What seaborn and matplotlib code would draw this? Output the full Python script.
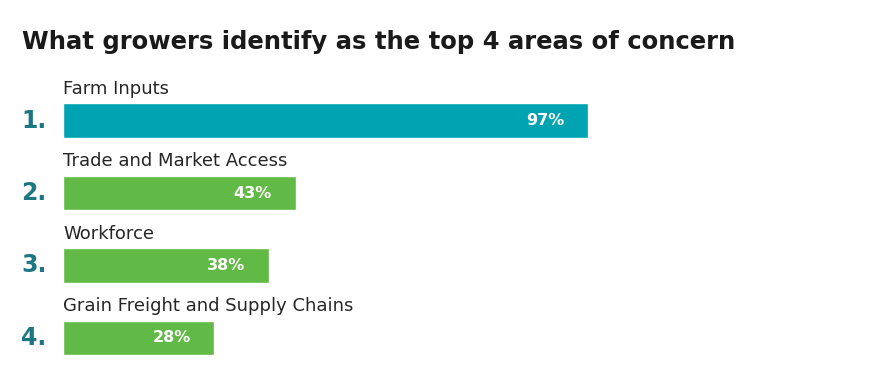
import matplotlib
matplotlib.use("Agg")
import matplotlib.pyplot as plt
import matplotlib.transforms as mtransforms
import seaborn as sns
import pandas as pd

title = "What growers identify as the top 4 areas of concern"
categories = ["Farm Inputs", "Trade and Market Access", "Workforce", "Grain Freight and Supply Chains"]
values = [97, 43, 38, 28]
ranks = ["1.", "2.", "3.", "4."]
colors = ["#00A3B1", "#62BA46", "#62BA46", "#62BA46"]

sns.set_theme(style="white")
plt.rcParams["font.family"] = ["DejaVu Sans"]

df = pd.DataFrame({"category": categories, "value": values})

fig = plt.figure(figsize=(8.72, 3.87), dpi=100)
ax = fig.add_axes([63 / 872, 1 - 381.5 / 387, 541 / 872, 304.5 / 387])
sns.barplot(data=df, x="value", y="category", hue="category", palette=colors,
            orient="h", width=0.48, legend=False, ax=ax, saturation=1)
ax.set_xlim(0, 100)
ax.set_ylim(3.6, -0.6)
ax.axis("off")

trans = mtransforms.blended_transform_factory(fig.transFigure, ax.transData)
for i, (cat, v, r) in enumerate(zip(categories, values, ranks)):
    ax.text(0, i - 0.435, cat, ha="left", va="center", fontsize=13, color="#262626")
    ax.text(v - 4.4, i, f"{v}%", ha="right", va="center", fontsize=11.5,
            color="white", fontweight="bold")
    ax.text(21 / 872, i, r, transform=trans, ha="left", va="center",
            fontsize=17, fontweight="bold", color="#1C7782")

fig.text(22 / 872, 1 - 42 / 387, title, ha="left", va="center",
         fontsize=17.5, fontweight="bold", color="#1a1a1a")

fig.savefig("out.png", dpi=100)
